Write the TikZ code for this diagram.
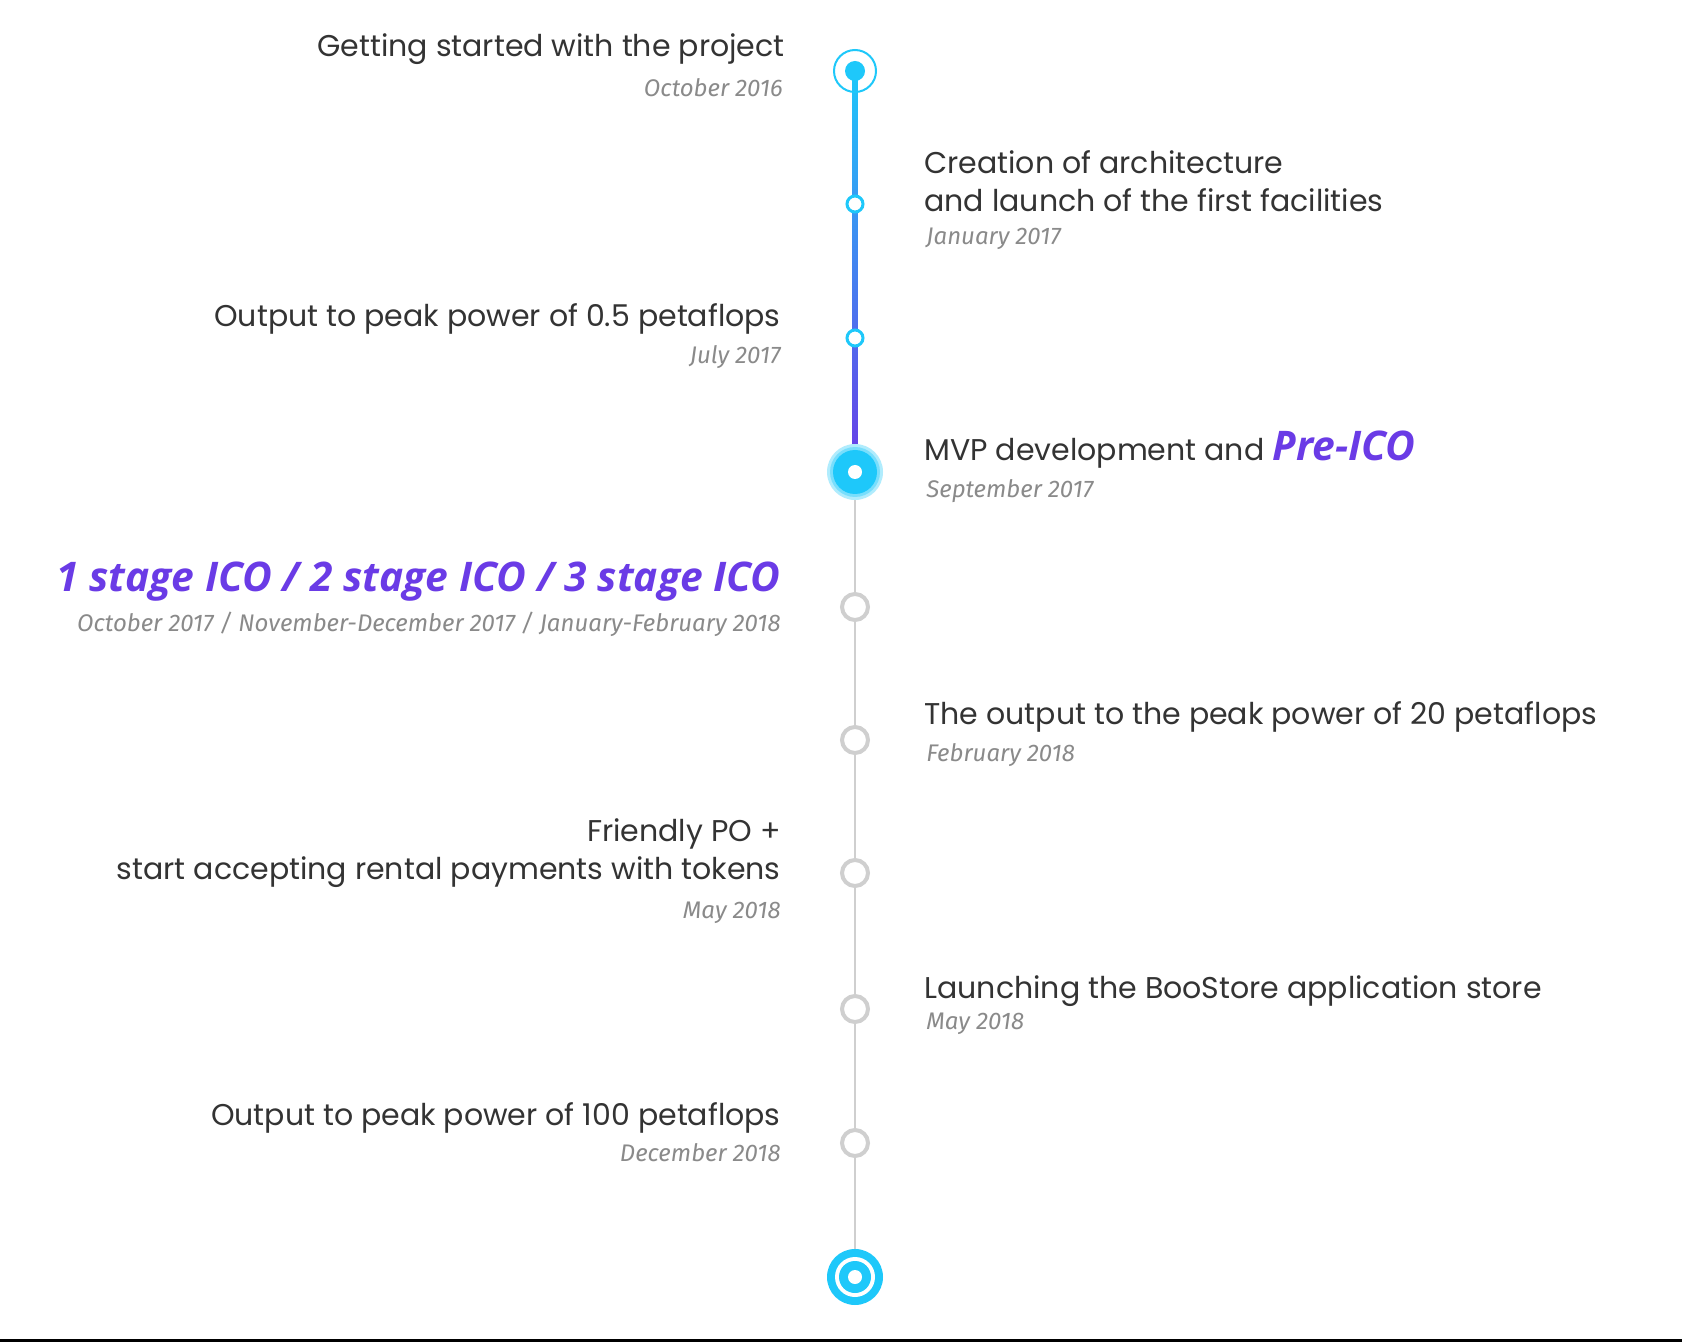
\documentclass[tikz,border=0pt]{standalone}
\usepackage{fontspec}
\setmainfont{Poppins}
\newfontfamily\datefont{Fira Sans}
\newfontfamily\boldfont{Open Sans}
\definecolor{cy}{HTML}{1EC8FA}
\definecolor{pu}{HTML}{6A3BE6}
\definecolor{gr}{HTML}{CFCFCF}
\definecolor{tx}{HTML}{333333}
\definecolor{dt}{HTML}{8A8A8A}
\begin{document}
\begin{tikzpicture}[x=0.5pt,y=-0.5pt,
  ttl/.style={font=\fontsize{15}{18}\selectfont, text=tx, inner sep=0pt},
  dte/.style={font=\datefont\itshape\fontsize{12}{14}\selectfont, text=dt, inner sep=0pt},
  big/.style={font=\boldfont\bfseries\itshape\fontsize{20.4}{23}\selectfont, text=pu, inner sep=0pt},
  small/.style={circle, draw=cy, line width=1.5pt, fill=white, minimum size=8pt, inner sep=0pt},
  grey/.style={circle, draw=gr, line width=2pt, fill=white, minimum size=13pt, inner sep=0pt}]
\useasboundingbox (0,0) rectangle (1682,1342);
\fill[white] (0,0) rectangle (1682,1342);
\draw[black, line width=1.5pt] (0,1340) -- (1682,1340);
% lines
\shade[top color=cy, bottom color=pu] (852.5,71) rectangle (857.5,472);
\coordinate (c0) at (855,71);
\coordinate (c1) at (855,204);
\coordinate (c2) at (855,338);
\coordinate (c3) at (855,472);
\coordinate (c9) at (855,1277);
\draw[gr, line width=1.3pt] (c3) -- (c9);
% node 0
\draw[cy, line width=1pt] (c0) circle (21);
\fill[cy] (c0) circle (10);
\node[small] (n1) at (c1) {};
\node[small] (n2) at (c2) {};
\fill[cy!35] (c3) circle (28);
\fill[cy!60] (c3) circle (25);
\fill[cy] (c3) circle (22);
\fill[white] (c3) circle (7);
\node[grey] (n4) at (855,607) {};
\node[grey] (n5) at (855,740) {};
\node[grey] (n6) at (855,873) {};
\node[grey] (n7) at (855,1009) {};
\node[grey] (n8) at (855,1143) {};
\fill[cy] (c9) circle (28);
\fill[white] (c9) circle (20);
\fill[cy] (c9) circle (16);
\fill[white] (c9) circle (7);
% left texts
\node[ttl, anchor=east] (t0) at (785,49) {Getting started with the project};
\node[dte, anchor=east] (d0) at (783,88) {October 2016};
\node[ttl, anchor=east] (t2) at (781,319) {Output to peak power of 0.5 petaflops};
\node[dte, anchor=east] (d2) at (781,357) {July 2017};
\node[big, anchor=east] (t4) at (781,582) {1 stage ICO / 2 stage ICO / 3 stage ICO};
\node[dte, anchor=east] (d4) at (781,624) {October 2017 / November-December 2017 / January-February 2018};
\node[ttl, anchor=east, align=right] (t6) at (781,853) {Friendly PO +\\[1pt]start accepting rental payments with tokens};
\node[dte, anchor=east] (d6) at (781,913) {May 2018};
\node[ttl, anchor=east] (t8) at (781,1118) {Output to peak power of 100 petaflops};
\node[dte, anchor=east] (d8) at (781,1153) {December 2018};
% right texts
\node[ttl, anchor=west, align=left] (t1) at (924,181) {Creation of architecture\\[1pt]and launch of the first facilities};
\node[dte, anchor=west] (d1) at (926,239) {January 2017};
\node[ttl, anchor=west] (t3) at (924,450) {MVP development and {\boldfont\bfseries\itshape\fontsize{20.4}{23}\selectfont\color{pu}Pre-ICO}};
\node[dte, anchor=west] (d3) at (926,491) {September 2017};
\node[ttl, anchor=west] (t5) at (924,717) {The output to the peak power of 20 petaflops};
\node[dte, anchor=west] (d5) at (926,755) {February 2018};
\node[ttl, anchor=west] (t7) at (924,991) {Launching the BooStore application store};
\node[dte, anchor=west] (d7) at (926,1024) {May 2018};
\end{tikzpicture}
\end{document}
